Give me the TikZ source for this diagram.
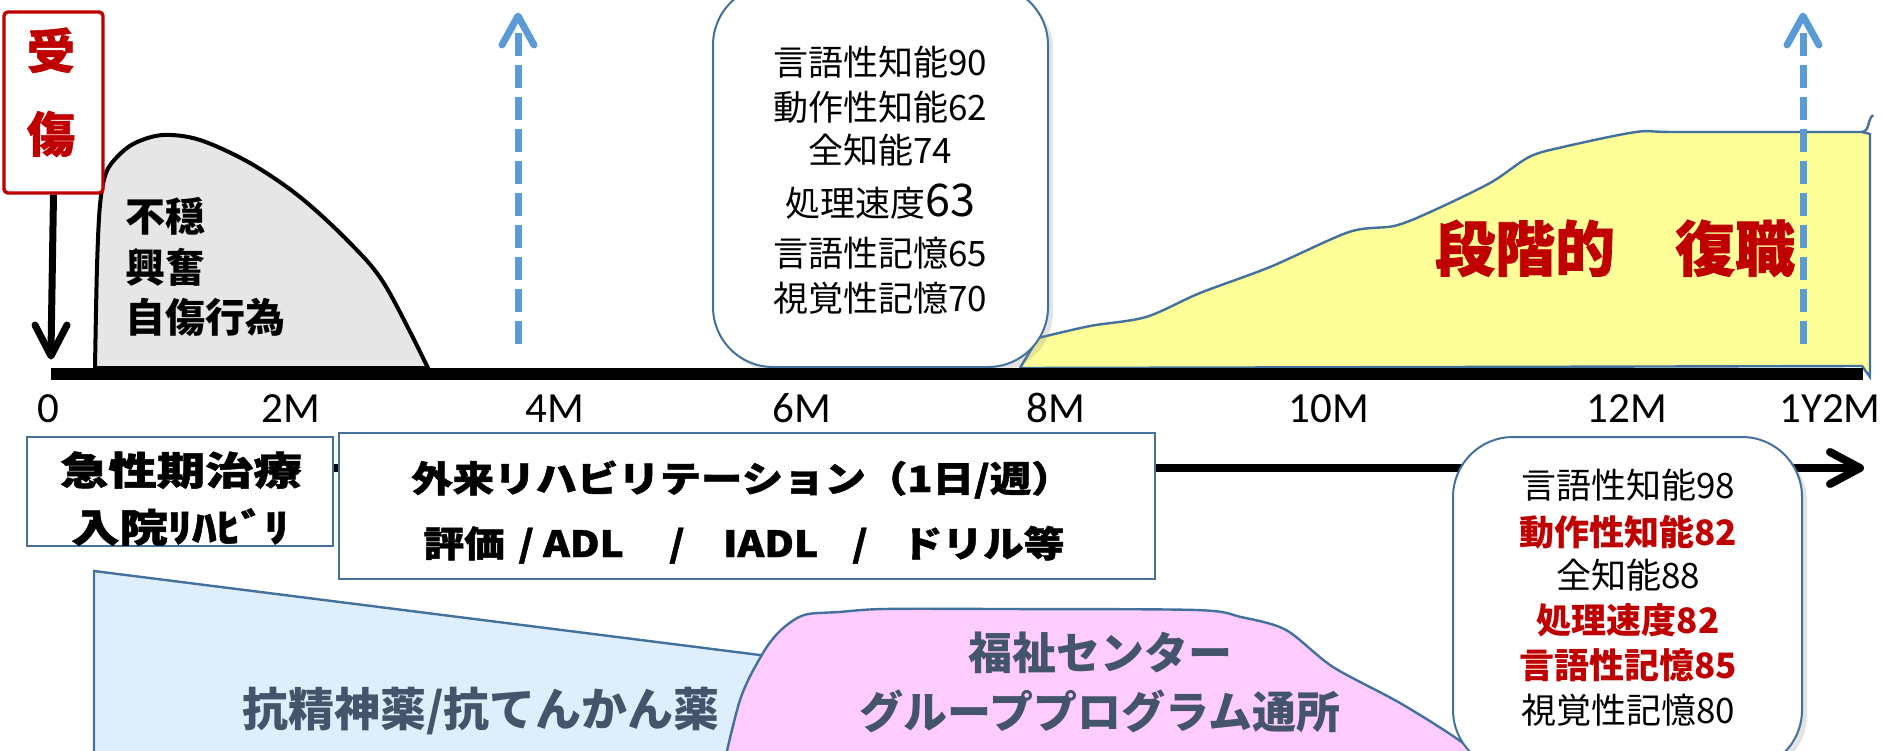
\documentclass[tikz,border=0pt]{standalone}
\usepackage{fontspec}
\usepackage{graphicx}
\setmainfont{Carlito}
\newfontfamily\jp{Noto Sans CJK JP}
\newfontfamily\jph[BoldFeatures={FakeBold=1.2}]{Noto Sans CJK JP}
\usetikzlibrary{shadows}
\definecolor{rd}{HTML}{C00000}
\definecolor{bl}{HTML}{41719C}
\definecolor{db}{HTML}{5B9BD5}
\definecolor{hg}{HTML}{E6E6E6}
\definecolor{yl}{HTML}{FFFF99}
\definecolor{lb}{HTML}{DEEFFB}
\definecolor{pk}{HTML}{FFCCFF}
\definecolor{sl}{HTML}{44546A}
\tikzset{
  jt/.style={anchor=base, inner sep=0pt},
  boxb/.style={draw=bl, line width=1pt, fill=white, inner sep=0pt},
  callbox/.style={boxb, rounded corners=30pt, drop shadow={opacity=0.22, shadow xshift=2.5pt, shadow yshift=-2.5pt}},
  dsh/.style={db, line width=3.5pt, dash pattern=on 11.5pt off 4.5pt},
  dhead/.style={db, line width=3.5pt, line cap=round, line join=round},
  khead/.style={black, line width=3.5pt, line cap=round, line join=round},
  ticklab/.style={anchor=base, inner sep=0pt, font=\fontsize{21.5}{24}\selectfont},
  shp/.style={draw=bl, line width=1.2pt},
}
\begin{document}
\begin{tikzpicture}[x=0.5pt,y=-0.5pt]
\clip (0,0) rectangle (1883,750);
\fill[white] (0,0) rectangle (1883,750);

% gray hump
\draw[line width=2pt, fill=hg, line join=round] plot[smooth, tension=0.55] coordinates {(95,368) (97,267) (100,205) (106,173) (118,156) (135,143) (163,135) (200,140) (250,163) (300,197) (350,243) (385,285) (428,368)} -- cycle;

% yellow return-to-work area
\draw[shp, fill=yl] (1020,368) -- plot[smooth, tension=0.5] coordinates {(1038,338) (1090,326) (1146,317) (1200,293) (1270,267) (1349,232) (1394,226) (1428,213) (1490,183) (1529,157) (1563,147) (1636,132) (1676,132) (1862,132)} -- (1870,134) -- (1870,377) -- (1862,366) -- cycle;
\draw[shp] (1862,132) .. controls (1870,131) and (1867,120) .. (1873,115);

% dashed arrows
\coordinate (d1b) at (518,345); \coordinate (d1t) at (518,16);
\coordinate (d2b) at (1803,345); \coordinate (d2t) at (1803,16);
\draw[dsh] (518,33) -- (d1b);
\draw[dhead] (502,45) -- (d1t) -- (534,45);
\draw[dsh] (1803,33) -- (d2b);
\draw[dhead] (1787,45) -- (d2t) -- (1819,45);

% top callout box
\node[callbox, minimum width=167.5pt, minimum height=191pt] (topbox) at (880.5,176) {};
\node[jt, font=\jp\fontsize{17.5}{20}\selectfont] (a1) at (880,75) {言語性知能90};
\node[jt, font=\jp\fontsize{17.5}{20}\selectfont] (a2) at (880,120) {動作性知能62};
\node[jt, font=\jp\fontsize{17.5}{20}\selectfont] (a3) at (880,163) {全知能74};
\node[jt, font=\jp\fontsize{17.5}{20}\selectfont] (a4) at (880,216) {処理速度{\fontsize{22.5}{24}\selectfont 63}};
\node[jt, font=\jp\fontsize{17.5}{20}\selectfont] (a5) at (880,266) {言語性記憶65};
\node[jt, font=\jp\fontsize{17.5}{20}\selectfont] (a6) at (880,311) {視覚性記憶70};

% main axis
\coordinate (ax0) at (51,374); \coordinate (ax1) at (1863,374);
\draw[line width=6pt] (ax0) -- (ax1);

% injury box and arrow
\node[draw=rd, line width=1.7pt, fill=white, rounded corners=2pt, minimum width=49.5pt, minimum height=90.5pt, inner sep=0pt] (inj) at (53.5,102.5) {};
\node[jt, text=rd, font=\jph\bfseries\fontsize{24}{26}\selectfont] (inj1) at (51,69) {受};
\node[jt, text=rd, font=\jph\bfseries\fontsize{24}{26}\selectfont] (inj2) at (51,152) {傷};
\coordinate (injtip) at (51,356);
\draw[line width=3.5pt] (inj.south) -- (51,352);
\draw[khead] (35,325) -- (injtip) -- (67,325);

% hump text
\node[jt, anchor=base west, font=\jp\bfseries\fontsize{20}{22}\selectfont] (h1) at (125,231) {不穏};
\node[jt, anchor=base west, font=\jp\bfseries\fontsize{20}{22}\selectfont] (h2) at (125,282) {興奮};
\node[jt, anchor=base west, font=\jp\bfseries\fontsize{20}{22}\selectfont] (h3) at (125,332) {自傷行為};

% return to work text
\node[jt, text=rd, font=\jph\bfseries\fontsize{30}{32}\selectfont] (rtw1) at (1525,271) {段階的};
\node[jt, text=rd, font=\jph\bfseries\fontsize{30}{32}\selectfont] (rtw2) at (1735,271) {復職};

% tick labels
\node[ticklab] (t0) at (48,422) {0};
\node[ticklab] (t2) at (291,422) {2M};
\node[ticklab] (t4) at (555,422) {4M};
\node[ticklab] (t6) at (802,422) {6M};
\node[ticklab] (t8) at (1056,422) {8M};
\node[ticklab] (t10) at (1329,422) {10M};
\node[ticklab] (t12) at (1627,422) {12M};
\node[ticklab] (t14) at (1830,422) {1Y2M};

% second time line
\coordinate (l2s) at (300,468); \coordinate (l2e) at (1860,468);
\draw[line width=4pt] (l2s) -- (1856,468);
\draw[khead, line width=4pt] (1830,452) -- (l2e) -- (1830,484);

% medication trapezoid and welfare shape
\draw[shp, fill=lb] (94,770) -- (94,571) -- (950,679) -- (950,770) -- cycle;
\draw[shp, fill=pk] plot[smooth, tension=0.5] coordinates {(718,790) (740,700) (763,653) (781,630) (804,615) (839,612) (884,609) (1000,609) (1196,610) (1241,617) (1286,630) (1333,667) (1400,703) (1463,743) (1520,790)} -- cycle;
\node[jt, text=sl, font=\jp\bfseries\fontsize{23}{25}\selectfont] (med) at (481,726) {抗精神薬/抗てんかん薬};
\node[jt, text=sl, font=\jp\bfseries\fontsize{22}{24}\selectfont] (wf1) at (1100,669) {福祉センター};
\node[jt, text=sl, font=\jp\bfseries\fontsize{22}{24}\selectfont] (wf2) at (1100,728) {グループプログラム通所};

% phase boxes
\node[boxb, minimum width=153pt, minimum height=54.5pt] (acute) at (180,491.5) {};
\node[jt, font=\jph\bfseries\fontsize{19.5}{21}\selectfont] (ac1) at (181,485) {\scalebox{1.24}[1]{急性期治療}};
\node[jt, font=\jph\bfseries\fontsize{19.5}{21}\selectfont] (ac2) at (180,542) {\scalebox{1.24}[1]{入院ﾘﾊﾋﾞﾘ}};
\node[boxb, minimum width=408pt, minimum height=73pt] (outp) at (747,506) {};
\node[jt, font=\jph\bfseries\fontsize{18}{20}\selectfont] (op1) at (742,492) {\scalebox{1.15}[1]{外来リハビリテーション（1日/週）}};
\node[jt, font=\jph\bfseries\fontsize{18}{20}\selectfont] (op2) at (744,557) {\scalebox{1.13}[1]{評価\hspace{6pt}/\hspace{4pt}ADL\hspace{20pt}/\hspace{17pt}IADL\hspace{15pt}/\hspace{15pt}ドリル等}};

% bottom right callout
\node[callbox, minimum width=174.5pt, minimum height=166.5pt] (botbox) at (1627.5,603.5) {};
\node[jt, font=\jp\fontsize{17.5}{20}\selectfont] (b1) at (1628,498) {言語性知能98};
\node[jt, text=rd, font=\jp\bfseries\fontsize{17.5}{20}\selectfont] (b2) at (1628,545) {動作性知能82};
\node[jt, font=\jp\fontsize{17.5}{20}\selectfont] (b3) at (1628,588) {全知能88};
\node[jt, text=rd, font=\jp\bfseries\fontsize{17.5}{20}\selectfont] (b4) at (1628,633) {処理速度82};
\node[jt, text=rd, font=\jp\bfseries\fontsize{17.5}{20}\selectfont] (b5) at (1628,678) {言語性記憶85};
\node[jt, font=\jp\fontsize{17.5}{20}\selectfont] (b6) at (1628,723) {視覚性記憶80};
\end{tikzpicture}
\end{document}
